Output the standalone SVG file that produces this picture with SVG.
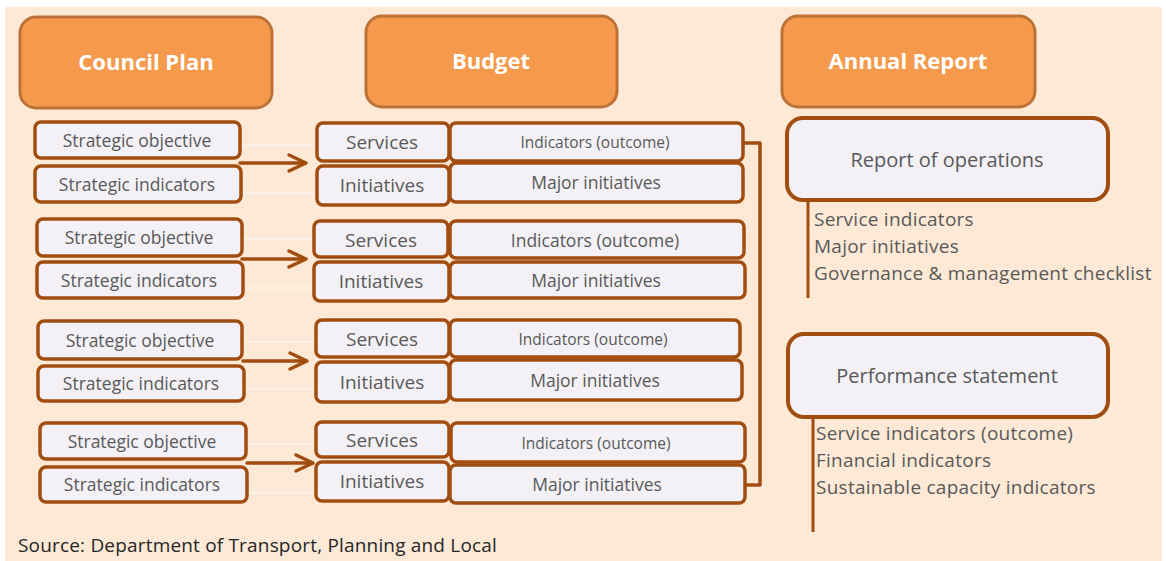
<svg xmlns="http://www.w3.org/2000/svg" width="1166" height="561" viewBox="0 0 1166 561">
<defs>
<style>
.hdr rect{fill:#F59A4C;stroke:#BC7237;stroke-width:3}
.hdr text{fill:#fff;font-family:"Open Sans","Noto Sans",sans-serif;font-weight:bold;font-size:22px;text-anchor:middle}
.bx rect{fill:#F3F1F6;stroke:#A24D10;stroke-width:3.5}
.bx text{fill:#595959;font-family:"Open Sans","Noto Sans",sans-serif;font-size:17.5px;text-anchor:middle;dominant-baseline:central}
.bx text.m{font-size:19px}
.bx text.s{font-size:15.5px}
.big rect{fill:#F3F1F6;stroke:#A24D10;stroke-width:4}
.big text{fill:#595959;font-family:"Open Sans","Noto Sans",sans-serif;font-size:20px;text-anchor:middle;dominant-baseline:central}
.lst text{fill:#595959;font-family:"Open Sans","Noto Sans",sans-serif;font-size:19px;letter-spacing:0.25px}
.lst line{stroke:#A24D10;stroke-width:3}
.con path{fill:none;stroke:#A24D10;stroke-width:3.5;stroke-linejoin:round;stroke-linecap:round}
.faint line{stroke:#FFFFFF;stroke-width:1.2;opacity:0.8}
.src{fill:#262626;font-family:"Open Sans","Noto Sans",sans-serif;font-size:19px;letter-spacing:0.18px}
</style>
</defs>
<rect x="0" y="0" width="1166" height="561" fill="#FFFFFF"/>
<rect x="5" y="7" width="1157" height="554" fill="#FDE9D6"/>

<g id="faint-links" class="faint">
<line x1="240" y1="145" x2="317" y2="145"/><line x1="241" y1="193" x2="317" y2="193"/>
<line x1="242" y1="239" x2="314" y2="239"/><line x1="243" y1="288" x2="314" y2="288"/>
<line x1="242" y1="342" x2="316" y2="342"/><line x1="244" y1="389" x2="316" y2="389"/>
<line x1="246" y1="444" x2="316" y2="444"/><line x1="247" y1="493" x2="316" y2="493"/>
</g>

<g id="hdr-council" class="hdr"><rect x="20" y="17" width="252" height="91" rx="16"/><text x="146" y="70">Council Plan</text></g>
<g id="hdr-budget" class="hdr"><rect x="366" y="16" width="251" height="91" rx="16"/><text x="491" y="69">Budget</text></g>
<g id="hdr-annual" class="hdr"><rect x="782" y="16" width="253" height="91" rx="16"/><text x="908" y="69">Annual Report</text></g>

<g id="so1" class="bx"><rect x="35" y="122" width="205" height="36" rx="6"/><text x="137" y="140">Strategic objective</text></g>
<g id="si1" class="bx"><rect x="35" y="166" width="206" height="36" rx="6"/><text x="137" y="184">Strategic indicators</text></g>
<g id="so2" class="bx"><rect x="37" y="219" width="205" height="37" rx="6"/><text x="139" y="237">Strategic objective</text></g>
<g id="si2" class="bx"><rect x="37" y="262" width="206" height="36" rx="6"/><text x="139" y="280">Strategic indicators</text></g>
<g id="so3" class="bx"><rect x="38" y="321" width="204" height="38" rx="6"/><text x="140" y="340">Strategic objective</text></g>
<g id="si3" class="bx"><rect x="38" y="366" width="206" height="35" rx="6"/><text x="141" y="383">Strategic indicators</text></g>
<g id="so4" class="bx"><rect x="40" y="423" width="206" height="36" rx="6"/><text x="142" y="441">Strategic objective</text></g>
<g id="si4" class="bx"><rect x="40" y="467" width="207" height="35" rx="6"/><text x="142" y="484">Strategic indicators</text></g>

<g id="sv1" class="bx"><rect x="317" y="123" width="132" height="38" rx="6"/><text class="m" x="382" y="142">Services</text></g>
<g id="in1" class="bx"><rect x="450" y="123" width="293" height="38" rx="6"/><text class="s" x="595" y="142">Indicators (outcome)</text></g>
<g id="it1" class="bx"><rect x="317" y="166" width="132" height="39" rx="6"/><text class="m" x="382" y="185">Initiatives</text></g>
<g id="mj1" class="bx"><rect x="450" y="163" width="293" height="39" rx="6"/><text x="596" y="182">Major initiatives</text></g>

<g id="sv2" class="bx"><rect x="314" y="221" width="134" height="36" rx="6"/><text class="m" x="381" y="240">Services</text></g>
<g id="in2" class="bx"><rect x="450" y="221" width="294" height="37" rx="6"/><text x="595" y="240">Indicators (outcome)</text></g>
<g id="it2" class="bx"><rect x="314" y="262" width="135" height="39" rx="6"/><text class="m" x="381" y="281">Initiatives</text></g>
<g id="mj2" class="bx"><rect x="450" y="262" width="295" height="36" rx="6"/><text x="596" y="280">Major initiatives</text></g>

<g id="sv3" class="bx"><rect x="316" y="320" width="133" height="37" rx="6"/><text class="m" x="382" y="339">Services</text></g>
<g id="in3" class="bx"><rect x="450" y="320" width="290" height="37" rx="6"/><text class="s" x="593" y="339">Indicators (outcome)</text></g>
<g id="it3" class="bx"><rect x="316" y="362" width="133" height="40" rx="6"/><text class="m" x="382" y="382">Initiatives</text></g>
<g id="mj3" class="bx"><rect x="450" y="360" width="292" height="40" rx="6"/><text x="595" y="380">Major initiatives</text></g>

<g id="sv4" class="bx"><rect x="316" y="422" width="133" height="35" rx="6"/><text class="m" x="382" y="440">Services</text></g>
<g id="in4" class="bx"><rect x="451" y="423" width="294" height="39" rx="6"/><text class="s" x="596" y="443">Indicators (outcome)</text></g>
<g id="it4" class="bx"><rect x="316" y="462" width="133" height="39" rx="6"/><text class="m" x="382" y="481">Initiatives</text></g>
<g id="mj4" class="bx"><rect x="450" y="465" width="295" height="38" rx="6"/><text x="597" y="484">Major initiatives</text></g>

<g id="connectors" class="con">
<path d="M240,163 H305"/><path d="M289,155 L306,163 L289,171"/>
<path d="M242,259 H305"/><path d="M289,251 L306,259 L289,267"/>
<path d="M243,361 H306"/><path d="M290,353 L307,361 L290,369"/>
<path d="M247,463 H312"/><path d="M296,455 L313,463 L296,471"/>
<path d="M743,143 H760 V485 H746" stroke-width="3" stroke-linejoin="miter" stroke-linecap="butt"/>
</g>

<g id="report-ops" class="big"><rect x="787" y="118" width="321" height="82" rx="16"/><text x="947" y="159">Report of operations</text></g>
<g id="report-ops-list" class="lst">
<line x1="808" y1="202" x2="808" y2="298"/>
<text x="814" y="226">Service indicators</text>
<text x="814" y="253">Major initiatives</text>
<text x="814" y="280">Governance &amp; management checklist</text>
</g>

<g id="perf-stmt" class="big"><rect x="788" y="334" width="320" height="83" rx="16"/><text x="947" y="375">Performance statement</text></g>
<g id="perf-stmt-list" class="lst">
<line x1="813" y1="417" x2="813" y2="532"/>
<text x="816" y="440">Service indicators (outcome)</text>
<text x="816" y="467">Financial indicators</text>
<text x="816" y="494">Sustainable capacity indicators</text>
</g>

<text class="src" x="18" y="552">Source: Department of Transport, Planning and Local</text>
</svg>
